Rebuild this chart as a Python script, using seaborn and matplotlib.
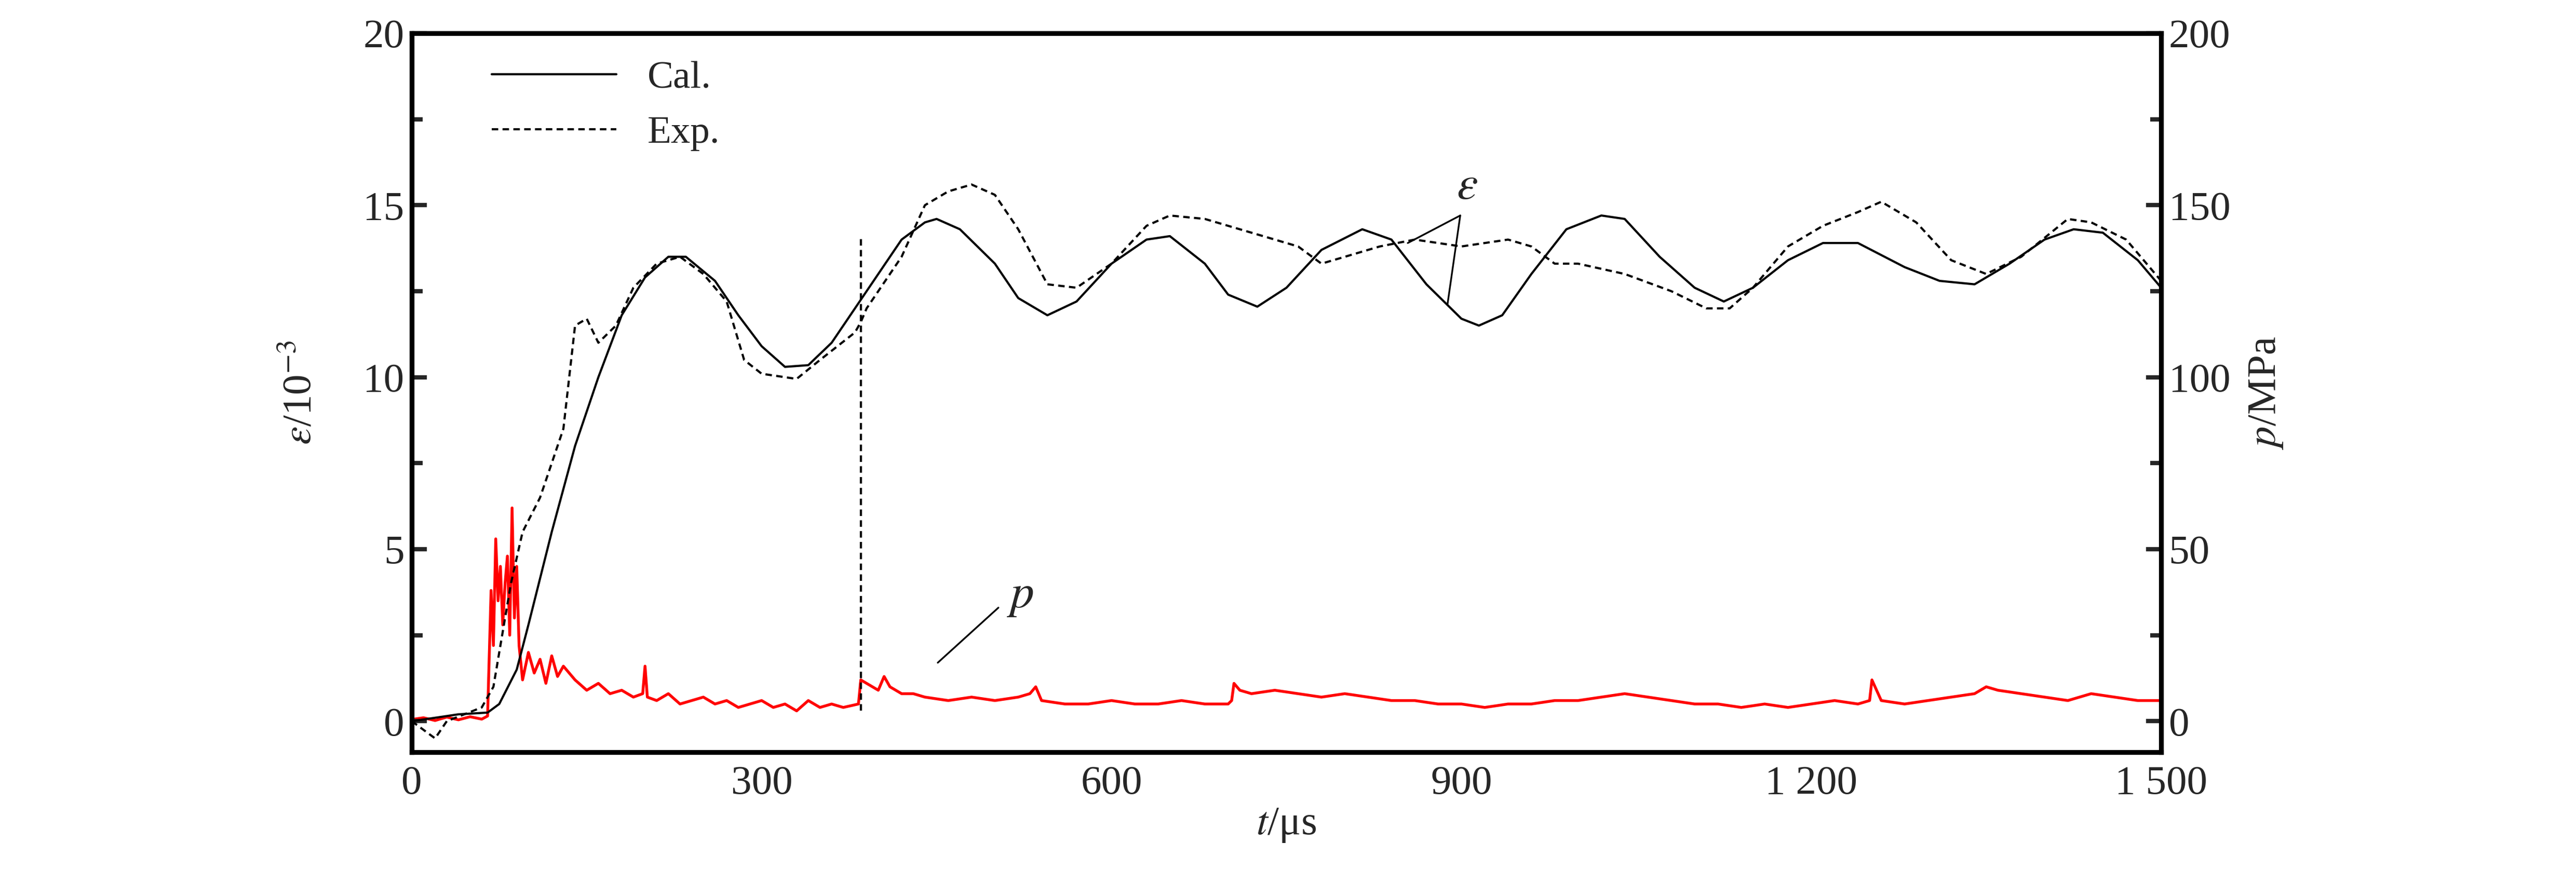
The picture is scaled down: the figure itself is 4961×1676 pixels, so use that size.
import numpy as np
import matplotlib.pyplot as plt
import seaborn as sns

# calculated strain (1e-3)
cal_t = [0, 20, 40, 65, 75, 90, 100, 120, 140, 160, 180, 200, 220, 235, 260, 280, 300, 320, 340, 360,
         380, 400, 420, 440, 450, 470, 500, 520, 545, 570, 600, 630, 650, 680, 700, 725, 750, 780, 815,
         840, 870, 900, 915, 935, 960, 990, 1020, 1040, 1070, 1100, 1125, 1150, 1180, 1210, 1240, 1280,
         1310, 1340, 1370, 1400, 1425, 1450, 1480, 1500]
cal_eps = [0, 0.1, 0.2, 0.25, 0.5, 1.5, 2.8, 5.5, 8.0, 10.0, 11.8, 12.9, 13.5, 13.5, 12.8, 11.8, 10.9,
           10.3, 10.35, 11.0, 12.0, 13.0, 14.0, 14.5, 14.6, 14.3, 13.3, 12.3, 11.8, 12.2, 13.3, 14.0,
           14.1, 13.3, 12.4, 12.05, 12.6, 13.7, 14.3, 14.0, 12.7, 11.7, 11.5, 11.8, 13.0, 14.3, 14.7,
           14.6, 13.5, 12.6, 12.2, 12.6, 13.4, 13.9, 13.9, 13.2, 12.8, 12.7, 13.3, 14.0, 14.3, 14.2,
           13.4, 12.6]

# experimental strain (1e-3)
exp_t = [0, 20, 30, 60, 70, 85, 95, 110, 130, 140, 150, 160, 175, 190, 210, 230, 250, 270, 285, 300,
         330, 350, 380, 385, 390, 420, 440, 460, 480, 500, 520, 545, 570, 600, 630, 650, 680, 720, 760,
         780, 800, 830, 860, 900, 940, 960, 980, 1000, 1040, 1080, 1110, 1130, 1150, 1180, 1210, 1240,
         1260, 1290, 1320, 1350, 1380, 1420, 1440, 1470, 1500]
exp_eps = [0, -0.5, 0, 0.4, 1.0, 4.0, 5.5, 6.5, 8.5, 11.5, 11.7, 11.0, 11.5, 12.6, 13.3, 13.5, 13.0,
           12.2, 10.5, 10.1, 9.95, 10.5, 11.3, 11.6, 12.0, 13.5, 15.0, 15.4, 15.6, 15.3, 14.3, 12.7,
           12.6, 13.3, 14.4, 14.7, 14.6, 14.2, 13.8, 13.3, 13.5, 13.8, 14.0, 13.8, 14.0, 13.8, 13.3,
           13.3, 13.0, 12.5, 12.0, 12.0, 12.6, 13.8, 14.4, 14.8, 15.1, 14.5, 13.4, 13.0, 13.5, 14.6,
           14.5, 14.0, 12.8]
jump_t = [385, 385]
jump_eps = [0.3, 14.1]

# pressure (MPa)
p_t = [0, 10, 20, 30, 40, 50, 60, 65, 68, 70, 72, 74, 76, 78, 80, 82, 84, 86, 88, 90, 92, 95, 100,
       105, 110, 115, 120, 125, 130, 140, 150, 160, 170, 180, 190, 198, 200, 202, 210, 220, 230, 240,
       250, 260, 270, 280, 290, 300, 310, 320, 330, 340, 350, 360, 370, 383, 385, 390, 400, 405, 410,
       420, 430, 440, 460, 480, 500, 520, 530, 535, 540, 560, 580, 600, 620, 640, 660, 680, 700, 703,
       705, 710, 720, 740, 760, 780, 800, 820, 840, 860, 880, 900, 920, 940, 960, 980, 1000, 1020,
       1040, 1060, 1080, 1100, 1120, 1140, 1160, 1180, 1200, 1220, 1240, 1250, 1252, 1260, 1280,
       1300, 1320, 1340, 1350, 1360, 1380, 1400, 1420, 1440, 1460, 1480, 1500]
p_val = [0.5, 1.0, 0.2, 1.2, 0.4, 1.3, 0.6, 1.5, 38, 22, 53, 35, 45, 28, 40, 48, 25, 62, 30, 45, 22, 12, 20,
         14, 18, 11, 19, 13, 16, 12, 9, 11, 8, 9, 7, 8, 16, 7, 6, 8, 5, 6,
         7, 5, 6, 4, 5, 6, 4, 5, 3, 6, 4, 5, 4, 5, 12, 11, 9, 13, 10,
         8, 8, 7, 6, 7, 6, 7, 8, 10, 6, 5, 5, 6, 5, 5, 6, 5, 5, 6,
         11, 9, 8, 9, 8, 7, 8, 7, 6, 6, 5, 5, 4, 5, 5, 6, 6, 7,
         8, 7, 6, 5, 5, 4, 5, 4, 5, 6, 5, 6, 12, 6, 5,
         6, 7, 8, 10, 9, 8, 7, 6, 8, 7, 6, 6]

sns.set_theme(style='white')
plt.rcParams['font.family'] = ['Liberation Serif', 'DejaVu Serif']
plt.rcParams['mathtext.fontset'] = 'stix'

fig = plt.figure(figsize=(16.537, 5.587), dpi=300)
ax = fig.add_axes([793 / 4961, 1 - 1449 / 1676, (4162 - 793) / 4961, (1449 - 64) / 1676])
ax2 = ax.twinx()

sns.lineplot(x=p_t, y=p_val, ax=ax2, color='red', linewidth=1.3, estimator=None)
sns.lineplot(x=cal_t, y=cal_eps, ax=ax, color='black', linewidth=1.0, label='Cal.', estimator=None)
sns.lineplot(x=exp_t, y=exp_eps, ax=ax, color='black', linewidth=1.0, linestyle=(0, (3, 2)),
             label='Exp.', estimator=None)
ax.plot(jump_t, jump_eps, color='black', linewidth=1.0, linestyle=(0, (3, 2)))
ax.set_zorder(ax2.get_zorder() + 1)
ax.patch.set_visible(False)

ax.set_xlim(0, 1500)
ax.set_ylim(-0.9, 20)
ax2.set_ylim(-9, 200)
ax.set_xticks(range(0, 1501, 300))
ax.set_xticklabels(['0', '300', '600', '900', '1 200', '1 500'])
ax.set_xticks(range(150, 1500, 300), minor=True)
ax.set_yticks(range(0, 21, 5))
ax.set_yticks(np.arange(2.5, 20, 5), minor=True)
ax2.set_yticks(range(0, 201, 50))
ax2.set_yticks(range(25, 200, 50), minor=True)

for a in (ax, ax2):
    a.tick_params(which='both', direction='in', labelsize=19, width=2.0)
    a.tick_params(which='major', length=7)
    a.tick_params(which='minor', length=5)
    for s in a.spines.values():
        s.set_linewidth(2.2)
        s.set_color('black')
ax.tick_params(axis='x', pad=6)

ax.set_xlabel('$t$/μs', fontsize=19, labelpad=2)
ax.set_ylabel(r'$\varepsilon$/10$^{-3}$', fontsize=19, labelpad=20)
ax2.set_ylabel('$p$/MPa', fontsize=19, labelpad=8)

ax.legend(loc='upper left', frameon=False, fontsize=18, bbox_to_anchor=(0.03, 1.0),
          handlelength=3.2, borderaxespad=0.3)

ax.text(905, 14.9, r'$\varepsilon$', fontsize=22, ha='center', va='bottom')
ax.plot([899, 854], [14.7, 13.9], color='black', linewidth=0.8)
ax.plot([899, 888], [14.7, 12.1], color='black', linewidth=0.8)
ax.text(522, 3.0, '$p$', fontsize=22, ha='center', va='bottom')
ax.plot([503, 451], [3.3, 1.7], color='black', linewidth=0.8)

fig.savefig('out.png', dpi=300)
